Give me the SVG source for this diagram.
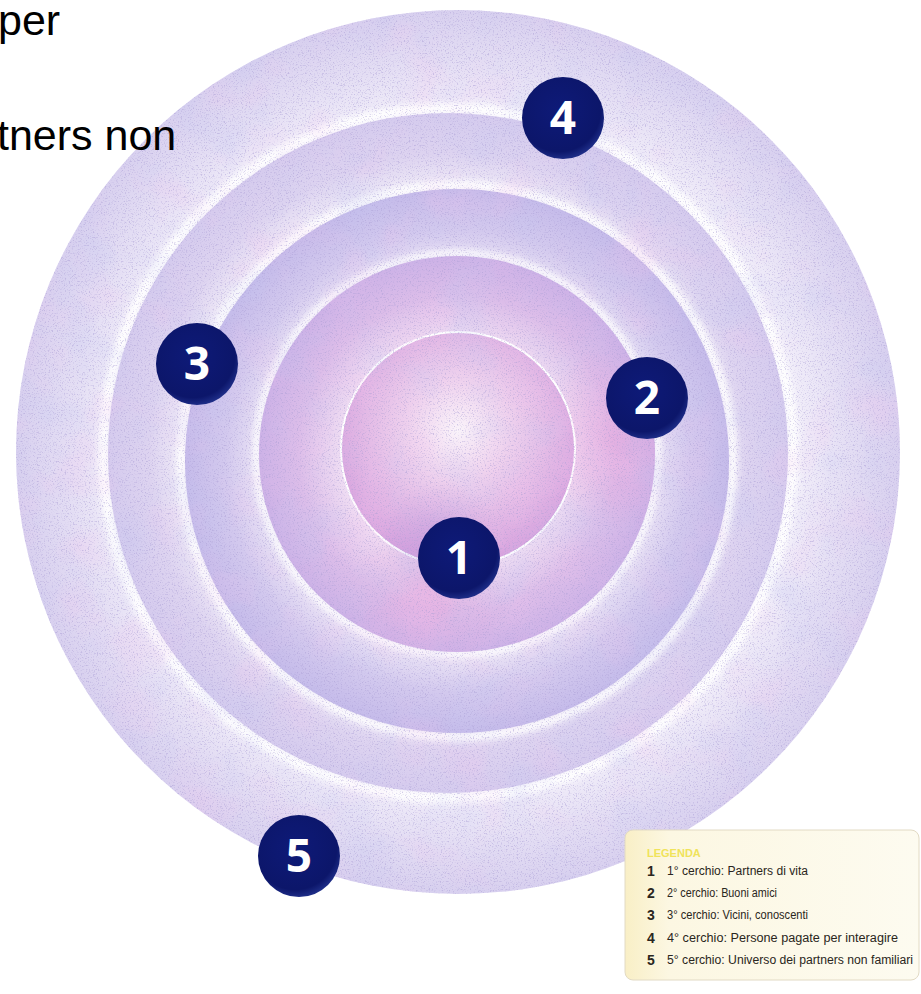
<svg xmlns="http://www.w3.org/2000/svg" width="921" height="994" viewBox="0 0 921 994">
<style>
.slide { font-family: "Liberation Sans", Arial, sans-serif; font-size: 43px; fill: #000; }
.node circle { fill: url(#nodeGrad); }
.node text { font-family: "Open Sans", "DejaVu Sans", sans-serif; font-weight: 700; font-size: 46px; fill: #ffffff; text-anchor: middle; }
.leg { font-family: "Liberation Sans", Arial, sans-serif; font-size: 12px; fill: #2a2620; }
.legnum { font-family: "Liberation Sans", Arial, sans-serif; font-size: 14px; font-weight: 700; fill: #2a2620; }
.legtitle { font-family: "Liberation Sans", Arial, sans-serif; font-size: 11px; font-weight: 700; fill: #f0e35a; }
</style>
<defs>
  <radialGradient id="nodeGrad" cx="0.45" cy="0.4" r="0.6">
    <stop offset="0" stop-color="#0e1a78"/>
    <stop offset="0.85" stop-color="#0c166a"/>
    <stop offset="1" stop-color="#1d2c86"/>
  </radialGradient>
  <radialGradient id="g5">
    <stop offset="0.74" stop-color="#f5f2fb"/>
    <stop offset="0.88" stop-color="#e4def4"/>
    <stop offset="1" stop-color="#d8d0ef"/>
  </radialGradient>
  <radialGradient id="g4">
    <stop offset="0.76" stop-color="#f3eff9"/>
    <stop offset="0.88" stop-color="#ddd3f0"/>
    <stop offset="1" stop-color="#d5cbee"/>
  </radialGradient>
  <radialGradient id="g3">
    <stop offset="0.70" stop-color="#efe8f7"/>
    <stop offset="0.85" stop-color="#d3c9ee"/>
    <stop offset="1" stop-color="#c5bbea"/>
  </radialGradient>
  <radialGradient id="g2">
    <stop offset="0.56" stop-color="#f1e0f4"/>
    <stop offset="0.8" stop-color="#dcbde9"/>
    <stop offset="1" stop-color="#cdb2e7"/>
  </radialGradient>
  <radialGradient id="g1" cx="0.5" cy="0.42" r="0.6">
    <stop offset="0" stop-color="#faf3fa"/>
    <stop offset="0.35" stop-color="#efd2ee"/>
    <stop offset="1" stop-color="#d69fdd"/>
  </radialGradient>
  <radialGradient id="pinkBlob">
    <stop offset="0" stop-color="#ec9fd8" stop-opacity="0.45"/>
    <stop offset="1" stop-color="#ec9fd8" stop-opacity="0"/>
  </radialGradient>
  <radialGradient id="violetBlob">
    <stop offset="0" stop-color="#a88ad8" stop-opacity="0.35"/>
    <stop offset="1" stop-color="#a88ad8" stop-opacity="0"/>
  </radialGradient>
  <linearGradient id="legGrad" x1="0" y1="0" x2="1" y2="0">
    <stop offset="0" stop-color="#f9efc6"/>
    <stop offset="0.15" stop-color="#fcf7e2"/>
    <stop offset="1" stop-color="#fdfbf0"/>
  </linearGradient>
  <filter id="grain" x="0" y="0" width="100%" height="100%">
    <feTurbulence type="fractalNoise" baseFrequency="0.75" numOctaves="2" seed="7" result="n"/>
    <feColorMatrix in="n" type="matrix" values="0 0 0 0 0.40  0 0 0 0 0.34  0 0 0 0 0.66  4.5 0 0 0 -2.45" result="speck"/>
    <feComposite in="speck" in2="SourceAlpha" operator="in"/>
  </filter>
  <filter id="mottle" x="0" y="0" width="100%" height="100%">
    <feTurbulence type="fractalNoise" baseFrequency="0.018" numOctaves="3" seed="11" result="m"/>
    <feColorMatrix in="m" type="matrix" values="0 0 0 0 0.90  0 0 0 0 0.55  0 0 0 0 0.85  3 0 0 0 -1.5" result="pink"/>
    <feColorMatrix in="m" type="matrix" values="0 0 0 0 0.55  0 0 0 0 0.58  0 0 0 0 0.88  0 3 0 0 -1.5" result="blue"/>
    <feMerge result="both"><feMergeNode in="pink"/><feMergeNode in="blue"/></feMerge>
    <feComposite in="both" in2="SourceAlpha" operator="in"/>
  </filter>
  <filter id="soft" x="-5%" y="-5%" width="110%" height="110%">
    <feGaussianBlur stdDeviation="3"/>
  </filter>
  <clipPath id="clip2"><circle cx="457" cy="454" r="198"/></clipPath>
</defs>

<rect width="921" height="994" fill="#ffffff"/>

<g id="target">
  <circle cx="458" cy="452" r="442" fill="url(#g5)"/>
  <circle cx="448" cy="453" r="345" fill="none" stroke="#ffffff" stroke-width="10" filter="url(#soft)"/>
  <circle cx="448" cy="453" r="340" fill="url(#g4)"/>
  <circle cx="457" cy="461" r="276" fill="none" stroke="#ffffff" stroke-width="8" filter="url(#soft)"/>
  <circle cx="457" cy="461" r="272" fill="url(#g3)"/>
  <circle cx="457" cy="454" r="201" fill="none" stroke="#ffffff" stroke-width="6" filter="url(#soft)"/>
  <circle cx="457" cy="454" r="198" fill="url(#g2)"/>
  <g clip-path="url(#clip2)">
    <circle cx="615" cy="440" r="90" fill="url(#pinkBlob)"/>
    <circle cx="430" cy="590" r="80" fill="url(#pinkBlob)"/>
  </g>
  <circle cx="458" cy="449" r="117" fill="url(#g1)" stroke="#ffffff" stroke-width="2"/>
  <circle cx="440" cy="540" r="60" fill="url(#violetBlob)"/>
  <circle cx="458" cy="452" r="442" fill="#ffffff" opacity="0.22" filter="url(#mottle)"/>
  <circle cx="458" cy="452" r="442" fill="#ffffff" opacity="0.5" filter="url(#grain)"/>
</g>

<g id="slide-text">
  <text class="slide" x="-2" y="35">per</text>
  <text class="slide" x="-3" y="150">tners non</text>
</g>

<g id="connectors"></g>

<g id="node-4" class="node"><circle cx="563" cy="118" r="41"/><text x="563" y="134">4</text></g>
<g id="node-3" class="node"><circle cx="197" cy="364" r="41"/><text x="197" y="380">3</text></g>
<g id="node-2" class="node"><circle cx="647" cy="398" r="41"/><text x="647" y="414">2</text></g>
<g id="node-1" class="node"><circle cx="459" cy="558" r="41"/><text x="459" y="574">1</text></g>
<g id="node-5" class="node"><circle cx="299" cy="856" r="41"/><text x="299" y="872">5</text></g>

<g id="legend">
  <rect x="625" y="830" width="294" height="150" rx="8" fill="url(#legGrad)" stroke="#e2dac4" stroke-width="1"/>
  <text class="legtitle" x="647" y="857">LEGENDA</text>
  <text class="legnum" x="647" y="876">1</text>
  <text class="leg" x="667" y="875" textLength="141" lengthAdjust="spacingAndGlyphs">1° cerchio: Partners di vita</text>
  <text class="legnum" x="647" y="898">2</text>
  <text class="leg" x="667" y="897" textLength="110" lengthAdjust="spacingAndGlyphs">2° cerchio: Buoni amici</text>
  <text class="legnum" x="647" y="920">3</text>
  <text class="leg" x="667" y="919" textLength="141" lengthAdjust="spacingAndGlyphs">3° cerchio: Vicini, conoscenti</text>
  <text class="legnum" x="647" y="943">4</text>
  <text class="leg" x="667" y="942" textLength="231" lengthAdjust="spacingAndGlyphs">4° cerchio: Persone pagate per interagire</text>
  <text class="legnum" x="647" y="965">5</text>
  <text class="leg" x="667" y="964" textLength="246" lengthAdjust="spacingAndGlyphs">5° cerchio: Universo dei partners non familiari</text>
</g>
</svg>
